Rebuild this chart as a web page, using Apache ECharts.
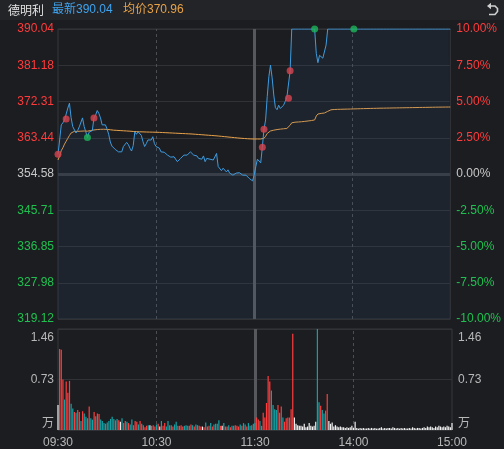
<!DOCTYPE html>
<html><head><meta charset="utf-8">
<script src="https://cdn.jsdelivr.net/npm/echarts@6/dist/echarts.min.js"></script>
<style>html,body{margin:0;padding:0;background:#1c1d21;}#c{width:504px;height:449px;}</style>
</head><body><div id="c"></div>
<script>
// ---------- data ----------
const stockName = '德明利';
const lastLabel = '最新390.04';
const avgLabel = '均价370.96';
const preClose = 354.58;
const priceTickLabels = ['319.12','327.98','336.85','345.71','354.58','363.44','372.31','381.18','390.04'];
const pctTickLabels = ['-10.00%','-7.50%','-5.00%','-2.50%','0.00%','2.50%','5.00%','7.50%','10.00%'];
const volTickLabels = ['万','0.73','1.46'];
const timeTickIndex = [0,60,120,180,240];
const timeTickLabels = ['09:30','10:30','11:30','14:00','15:00'];

const prices = [
359.4,362.9,366.6,367.1,367.8,368.0,370.7,371.9,368.4,366.2,366.6,
364.6,365.2,366.1,366.1,368.3,366.2,364.9,363.5,364.8,364.8,
365.2,368.3,369.0,370.1,369.4,368.3,366.6,366.6,366.6,365.6,
364.3,362.4,361.4,361.2,360.6,360.2,360.0,360.1,360.0,361.3,
361.7,362.3,361.8,360.9,360.2,361.5,364.9,364.3,364.9,365.3,
364.0,362.5,361.3,362.0,362.9,362.5,362.9,363.7,362.0,361.3,
360.9,360.9,360.0,359.6,359.9,359.6,359.2,359.0,358.7,358.4,
358.8,358.4,357.6,358.0,358.4,358.2,359.2,359.6,359.2,359.6,
360.0,359.8,359.2,358.8,359.0,358.4,358.8,358.2,359.0,357.6,
358.4,358.2,358.2,358.4,358.0,358.2,359.6,356.4,356.0,355.4,
356.0,355.6,355.1,355.6,354.8,355.1,354.3,354.3,354.8,354.8,
354.9,355.1,354.3,353.9,354.3,353.9,353.5,353.3,352.9,354.3,
356.4,358.2,358.0,357.3,361.1,365.5,367.8,373.5,378.4,381.2,
378.1,373.9,370.8,370.3,371.4,370.6,370.8,371.4,372.3,373.3,
373.1,379.8,390.04,390.04,390.04,390.04,390.04,390.04,390.04,390.04,
390.04,390.04,390.04,390.04,390.04,390.04,390.04,384.1,381.8,383.6,
383.2,382.9,383.2,386.1,390.04,390.04,390.04,390.04,390.04,390.04,
390.04,390.04,390.04,390.04,390.04,390.04,390.04,390.04,390.04,390.04,
390.04,390.04,390.04,390.04,390.04,390.04,390.04,390.04,390.04,390.04,
390.04,390.04,390.04,390.04,390.04,390.04,390.04,390.04,390.04,390.04,
390.04,390.04,390.04,390.04,390.04,390.04,390.04,390.04,390.04,390.04,
390.04,390.04,390.04,390.04,390.04,390.04,390.04,390.04,390.04,390.04,
390.04,390.04,390.04,390.04,390.04,390.04,390.04,390.04,390.04,390.04,
390.04,390.04,390.04,390.04,390.04,390.04,390.04,390.04,390.04,390.04
];

const avgPrices = [
358.0,359.0,360.3,361.0,361.9,362.6,363.3,364.0,364.6,364.9,365.0,
365.0,365.0,365.05,365.05,365.1,365.1,365.1,365.05,365.1,365.2,
365.3,365.35,365.4,365.45,365.5,365.5,365.52,365.52,365.5,365.48,
365.45,365.4,365.35,365.3,365.28,365.25,365.22,365.2,365.18,365.15,
365.12,365.1,365.08,365.05,365.0,364.98,364.96,364.95,364.92,364.9,
364.9,364.88,364.86,364.85,364.84,364.83,364.82,364.81,364.8,364.79,
364.78,364.76,364.74,364.72,364.7,364.68,364.66,364.64,364.62,364.6,
364.58,364.56,364.54,364.52,364.5,364.48,364.46,364.44,364.42,364.4,
364.38,364.36,364.33,364.3,364.27,364.24,364.21,364.18,364.15,364.12,
364.09,364.06,364.03,364.0,363.97,363.94,363.91,363.87,363.83,363.79,
363.75,363.71,363.67,363.63,363.59,363.55,363.51,363.47,363.43,363.39,
363.35,363.32,363.29,363.26,363.23,363.2,363.18,363.16,363.15,363.14,
363.14,363.14,363.14,363.14,363.16,363.3,363.8,364.5,364.85,365.1,
365.2,365.3,365.38,365.45,365.5,365.55,365.6,365.64,365.68,365.72,
365.76,366.5,367.1,367.2,367.25,367.28,367.3,367.33,367.36,367.4,
367.45,367.5,367.55,367.6,367.65,367.72,367.8,368.76,369.25,369.35,
369.4,369.45,369.5,369.57,369.9,370.23,370.28,370.32,370.35,370.37,
370.39,370.4,370.41,370.42,370.43,370.44,370.45,370.46,370.47,370.48,
370.5,370.51,370.52,370.53,370.55,370.56,370.57,370.58,370.59,370.6,
370.61,370.62,370.63,370.64,370.65,370.66,370.67,370.67,370.68,370.69,
370.7,370.71,370.71,370.72,370.73,370.74,370.74,370.75,370.76,370.77,
370.77,370.78,370.79,370.8,370.8,370.81,370.82,370.82,370.83,370.84,
370.85,370.85,370.86,370.87,370.87,370.88,370.89,370.9,370.9,370.91,
370.92,370.92,370.93,370.93,370.94,370.94,370.95,370.95,370.96,370.96
];

// volume in 万 shares
const volumes = [
0.36,1.17,1.16,0.73,0.44,0.70,0.54,0.71,0.38,0.31,0.26,
0.25,0.29,0.26,0.13,0.27,0.24,0.19,0.17,0.34,0.17,
0.15,0.26,0.20,0.24,0.23,0.15,0.13,0.10,0.09,0.11,
0.13,0.16,0.19,0.16,0.14,0.16,0.14,0.12,0.17,0.10,
0.13,0.12,0.10,0.08,0.15,0.07,0.13,0.12,0.08,0.13,
0.09,0.07,0.04,0.06,0.07,0.07,0.06,0.07,0.05,0.08,
0.09,0.05,0.13,0.06,0.10,0.05,0.13,0.07,0.07,0.05,
0.08,0.12,0.06,0.06,0.07,0.05,0.06,0.07,0.06,0.06,
0.08,0.07,0.05,0.08,0.07,0.06,0.05,0.05,0.04,0.11,
0.05,0.06,0.10,0.05,0.08,0.09,0.09,0.14,0.06,0.06,
0.10,0.05,0.05,0.07,0.04,0.06,0.06,0.07,0.06,0.05,
0.08,0.06,0.10,0.08,0.05,0.10,0.06,0.07,0.09,0.10,
0.18,0.15,0.13,0.06,0.25,0.18,0.39,0.78,0.70,0.57,
0.36,0.30,0.29,0.36,0.25,0.34,0.18,0.12,0.17,0.18,
0.18,0.30,1.39,0.18,0.09,0.07,0.06,0.06,0.05,0.09,
0.04,0.05,0.10,0.06,0.05,0.06,0.12,1.46,0.40,0.35,
0.29,0.24,0.28,0.52,0.13,0.09,0.11,0.05,0.07,0.05,
0.04,0.05,0.04,0.04,0.03,0.04,0.03,0.04,0.06,0.03,
0.12,0.03,0.02,0.03,0.02,0.03,0.02,0.02,0.03,0.02,
0.03,0.02,0.03,0.02,0.02,0.03,0.04,0.02,0.03,0.02,
0.03,0.03,0.02,0.04,0.03,0.02,0.03,0.02,0.03,0.02,
0.03,0.02,0.02,0.03,0.02,0.04,0.03,0.02,0.03,0.03,
0.02,0.03,0.04,0.03,0.05,0.04,0.05,0.04,0.03,0.05,
0.04,0.06,0.05,0.04,0.05,0.04,0.06,0.05,0.04,0.10
];
// 1 = up (red), -1 = down (teal), 0 = flat (white)
const volDir = [
0,1,1,1,-1,1,1,1,-1,-1,1,
-1,1,1,-1,1,-1,-1,-1,1,-1,
-1,1,-1,1,1,-1,-1,-1,1,-1,
-1,-1,-1,-1,1,-1,1,0,-1,1,
1,-1,1,-1,-1,1,1,1,-1,1,
-1,1,1,1,-1,0,-1,1,1,-1,
1,0,-1,1,1,-1,-1,1,-1,1,
-1,-1,1,-1,1,1,-1,-1,1,-1,
1,-1,1,-1,-1,1,1,0,1,-1,
1,1,-1,1,-1,1,-1,-1,1,0,
-1,1,1,-1,1,-1,-1,1,1,1,
-1,1,-1,-1,1,-1,-1,1,-1,-1,
1,1,-1,-1,1,1,1,1,1,-1,
-1,-1,-1,1,-1,1,-1,1,1,1,
-1,1,1,0,0,0,0,0,0,0,
0,0,0,0,0,0,0,-1,-1,1,
-1,-1,1,1,0,0,0,0,0,0,
0,0,0,0,0,0,0,0,0,0,
0,0,0,0,0,0,0,0,0,0,
0,0,0,0,0,0,0,0,0,0,
0,0,0,0,0,0,0,0,0,0,
0,0,0,0,0,0,0,0,0,0,
0,0,0,0,0,0,0,0,0,0,
0,0,0,0,0,0,0,0,0,0
];
const buyIdx = [0,5,22,125,126,141,142];
const sellIdx = [18,157,181];

// ---------- build ----------
function pad(n){return (n<10?'0':'')+n;}
const times = [];
for (let m = 9*60+30; m <= 11*60+30; m++) times.push(pad(Math.floor(m/60))+':'+pad(m%60));
for (let m = 13*60+1; m <= 15*60; m++) times.push(pad(Math.floor(m/60))+':'+pad(m%60));

const toPct = p => (p/preClose - 1) * 100;
const FONT = "'Liberation Sans', Arial, 'Noto Sans CJK SC', sans-serif";
const RED = '#ff3b3b', GREEN = '#20c050', GREY = '#c8c8c8';
const dirColor = {'1':'#ff3d3d','-1':'#13a3a6','0':'#f2f2f2'};
const tickIdx = v => Math.round((Number(v)+10)/2.5);
const pctColor = v => { const i = tickIdx(v); return i < 4 ? GREEN : (i === 4 ? GREY : RED); };

const chart = echarts.init(document.getElementById('c'), null, {renderer:'canvas'});
const volLabelFmt = v => {
  const k = Math.round(Number(v)/0.73);
  if (k === 2) return '{t|' + volTickLabels[2] + '}';
  if (k === 0) return '{b|' + volTickLabels[0] + '}';
  return volTickLabels[1];
};
const volRich = {
  t:{padding:[17,0,0,0], color:'#b8b8b8', fontSize:12, fontFamily:FONT},
  b:{padding:[0,0,15,0], color:'#b8b8b8', fontSize:12, fontFamily:"'Noto Sans CJK SC', sans-serif"}
};
const vLine = (idx, solid) => ({xAxis: times[idx], lineStyle: solid ? {color:'#56585d', width:3, type:'solid'} : {color:'#4c4e53', width:1, type:[3,3]}});

chart.setOption({
  backgroundColor:'#1c1d21',
  animation:false,
  graphic:[
    {type:'rect', shape:{x:0,y:0,width:504,height:20}, style:{fill:'#232428'}, z:-10, silent:true},
    {type:'text', x:8, y:10, style:{text:stockName, fill:'#e2e2e2', font:"12px 'Noto Sans CJK SC', sans-serif", verticalAlign:'middle'}},
    {type:'text', x:52, y:10, style:{text:lastLabel, fill:'#3fa4ef', font:"12px 'Liberation Sans', 'Noto Sans CJK SC', sans-serif", verticalAlign:'middle'}},
    {type:'text', x:123, y:10, style:{text:avgLabel, fill:'#e8a246', font:"12px 'Liberation Sans', 'Noto Sans CJK SC', sans-serif", verticalAlign:'middle'}},
    {type:'polyline', shape:{points:[[490,6],[495,6],[497.5,8.5],[497.5,11.5],[495,14.5],[489,14.5]]}, style:{stroke:'#d0d0d0', lineWidth:1.6, fill:null}},
    {type:'polygon', shape:{points:[[487,6],[491,2.8],[491,9.2]]}, style:{fill:'#d0d0d0'}}
  ],
  grid:[
    {left:58, right:52, top:29, height:290, show:true, borderColor:'#36383d', borderWidth:1},
    {left:58, right:52, top:329, height:101, show:true, borderColor:'#36383d', borderWidth:1}
  ],
  xAxis:[
    {type:'category', gridIndex:0, data:times, boundaryGap:false,
     axisLine:{show:false}, axisTick:{show:false}, axisLabel:{show:false}, splitLine:{show:false}},
    {type:'category', gridIndex:1, data:times, boundaryGap:false,
     axisLine:{show:false}, axisTick:{show:false}, splitLine:{show:false},
     axisLabel:{show:true, interval:(i)=>timeTickIndex.indexOf(i) >= 0,
       formatter:(v,i)=>{const k=timeTickIndex.indexOf(i); return k>=0?timeTickLabels[k]:'';},
       color:'#b8b8b8', fontSize:12, fontFamily:FONT, margin:7}}
  ],
  yAxis:[
    {type:'value', gridIndex:0, position:'left', min:-10, max:10, interval:2.5,
     axisLine:{show:false}, axisTick:{show:false},
     splitLine:{show:true, lineStyle:{color:'#303236', width:1}},
     axisLabel:{formatter:v=>priceTickLabels[tickIdx(v)], color:pctColor, fontSize:12, fontFamily:FONT, margin:4}},
    {type:'value', gridIndex:0, position:'right', min:-10, max:10, interval:2.5,
     axisLine:{show:false}, axisTick:{show:false}, splitLine:{show:false},
     axisLabel:{formatter:v=>pctTickLabels[tickIdx(v)], color:pctColor, fontSize:12, fontFamily:FONT, margin:6}},
    {type:'value', gridIndex:1, position:'left', min:0, max:1.46, interval:0.73,
     axisLine:{show:false}, axisTick:{show:false},
     splitLine:{show:true, lineStyle:{color:'#303236', width:1}},
     axisLabel:{formatter:volLabelFmt, rich:volRich, color:'#b8b8b8', fontSize:12, fontFamily:FONT, margin:4}},
    {type:'value', gridIndex:1, position:'right', min:0, max:1.46, interval:0.73,
     axisLine:{show:false}, axisTick:{show:false}, splitLine:{show:false},
     axisLabel:{formatter:volLabelFmt, rich:volRich, color:'#b8b8b8', fontSize:12, fontFamily:FONT, margin:6}}
  ],
  series:[
    {name:'均价', type:'line', xAxisIndex:0, yAxisIndex:0, data:avgPrices.map(toPct),
     showSymbol:false, symbol:'none', lineStyle:{color:'#e9a24a', width:1}, z:8, silent:true,
     markLine:{silent:true, symbol:['none','none'], label:{show:false}, z:1,
       data:[{yAxis:0, lineStyle:{color:'#3a3c41', width:3, type:'solid'}}, vLine(60,false), vLine(120,true), vLine(180,false)]}},
    {name:'价格', type:'line', xAxisIndex:0, yAxisIndex:0, data:prices.map(toPct),
     showSymbol:false, symbol:'none', lineStyle:{color:'#3d9ce0', width:1}, z:9, silent:true,
     areaStyle:{color:'rgba(45,85,135,0.18)', origin:'start'}},
    {name:'买', type:'scatter', xAxisIndex:0, yAxisIndex:0, data:buyIdx.map(i=>[i, toPct(prices[i])]),
     symbolSize:7, itemStyle:{color:'#d9434d'}, z:10, silent:true},
    {name:'卖', type:'scatter', xAxisIndex:0, yAxisIndex:0, data:sellIdx.map(i=>[i, toPct(prices[i])]),
     symbolSize:7, itemStyle:{color:'#1db55a'}, z:10, silent:true},
    {name:'成交量', type:'bar', xAxisIndex:1, yAxisIndex:2, barWidth:1.2, z:8, silent:true,
     data:volumes.map((v,i)=>({value:v, itemStyle:{color:dirColor[String(volDir[i])]}})),
     markLine:{silent:true, symbol:['none','none'], label:{show:false}, z:1,
       data:[vLine(60,false), vLine(120,true), vLine(180,false)]}}
  ]
});
</script>
</body></html>
